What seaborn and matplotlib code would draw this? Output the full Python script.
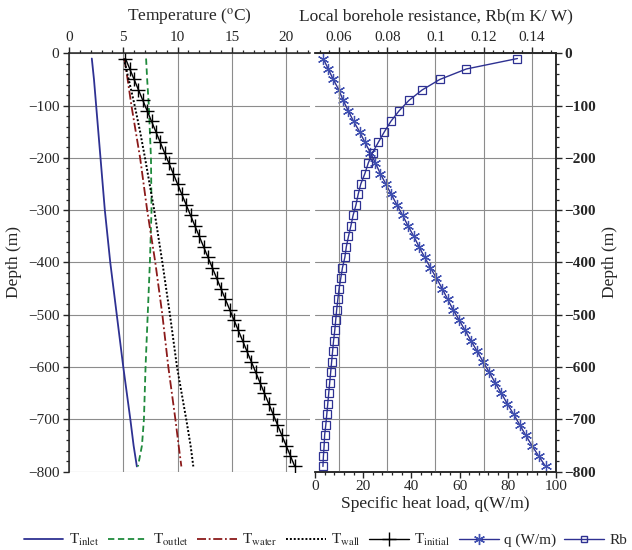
import matplotlib
matplotlib.use("Agg")
import matplotlib.pyplot as plt
from matplotlib.ticker import MultipleLocator
from matplotlib.lines import Line2D
import seaborn as sns

# ---------------- data ----------------
depth_T = [-10, -50, -100, -150, -200, -300, -400, -500, -600, -700, -750, -790]
t_inlet = [2.1, 2.3, 2.5, 2.7, 2.9, 3.3, 3.8, 4.4, 5.0, 5.65, 5.95, 6.25]
t_outlet = [7.1, 7.2, 7.35, 7.45, 7.55, 7.6, 7.45, 7.25, 7.05, 6.9, 6.72, 6.35]
t_water = [5.1, 5.4, 5.75, 6.15, 6.55, 7.2, 7.95, 8.6, 9.15, 9.8, 10.1, 10.35]
t_wall = [5.05, 5.5, 6.05, 6.55, 7.0, 7.85, 8.6, 9.3, 9.95, 10.8, 11.2, 11.45]

depth_pts = [-10, -30, -50, -70, -90, -110, -130, -150, -170, -190,
             -210, -230, -250, -270, -290, -310, -330, -350, -370, -390,
             -410, -430, -450, -470, -490, -510, -530, -550, -570, -590,
             -610, -630, -650, -670, -690, -710, -730, -750, -770, -790]
t_initial = [5.2, 5.6, 6.0, 6.4, 6.8, 7.2, 7.6, 8.0, 8.4, 8.8,
             9.2, 9.6, 10.0, 10.4, 10.8, 11.2, 11.6, 12.0, 12.4, 12.8,
             13.2, 13.6, 14.0, 14.4, 14.8, 15.2, 15.6, 16.0, 16.4, 16.8,
             17.2, 17.6, 18.0, 18.4, 18.8, 19.2, 19.6, 20.0, 20.4, 20.8]
q_load = [3.4, 5.5, 7.6, 9.9, 11.7, 13.8, 16.0, 18.5, 20.7, 23.0,
          25.1, 27.1, 29.4, 31.7, 34.0, 36.4, 38.6, 41.0, 43.2, 45.5,
          47.9, 50.4, 52.8, 55.0, 57.3, 59.8, 62.3, 64.8, 67.3, 69.8,
          72.3, 74.8, 77.3, 79.8, 82.4, 84.9, 87.4, 90.0, 92.8, 95.7]
rb = [0.134, 0.1128, 0.1018, 0.0945, 0.0890, 0.0849, 0.0815, 0.0788, 0.0763, 0.0739,
      0.0721, 0.0707, 0.0690, 0.0679, 0.0670, 0.0658, 0.0649, 0.0639, 0.0630, 0.0624,
      0.0614, 0.0607, 0.0600, 0.0595, 0.0590, 0.0586, 0.0582, 0.0577, 0.0573, 0.0569,
      0.0565, 0.0561, 0.0557, 0.0553, 0.0549, 0.0545, 0.0540, 0.0538, 0.0535, 0.0533]

# ---------------- style ----------------
sns.set_style("ticks")
plt.rcParams["font.family"] = ["Liberation Serif", "DejaVu Serif"]
plt.rcParams["mathtext.fontset"] = "stix"
plt.rcParams["axes.linewidth"] = 1.1

NAVY = "#2e3192"
STAR = "#3f4fb0"
GREEN = "#1f8a3c"
DRED = "#8b1a1a"
GRID = "#8c8c8c"

fig = plt.figure(figsize=(6.32, 5.5), dpi=100)
ax1 = fig.add_axes([0.1092, 0.1424, 0.3813, 0.7607])
ax2 = fig.add_axes([0.4984, 0.1424, 0.3813, 0.7607], sharey=ax1)
ax2t = ax2.twiny()

common = dict(sort=False, estimator=None, legend=False)

sns.lineplot(x=t_inlet, y=depth_T, ax=ax1, color=NAVY, lw=1.3, **common)
sns.lineplot(x=t_outlet, y=depth_T, ax=ax1, color=GREEN, lw=1.3,
             linestyle=(0, (3.5, 2)), **common)
sns.lineplot(x=t_water, y=depth_T, ax=ax1, color=DRED, lw=1.3,
             linestyle=(0, (5, 1.5, 1, 1.5)), **common)
sns.lineplot(x=t_wall, y=depth_T, ax=ax1, color="black", lw=1.4,
             linestyle=(0, (1, 1)), **common)
sns.lineplot(x=t_initial, y=depth_pts, ax=ax1, color="black", lw=1.0,
             marker="+", markersize=10, markeredgewidth=1.0,
             markeredgecolor="black", **common)

sns.lineplot(x=q_load, y=depth_pts, ax=ax2, color=NAVY, lw=1.0,
             marker=(6, 2, 0), markersize=8, markeredgewidth=0.9,
             markeredgecolor=STAR, **common)
sns.lineplot(x=rb, y=depth_pts, ax=ax2t, color=NAVY, lw=1.0,
             marker="s", markersize=5.5, markerfacecolor="none",
             markeredgecolor=NAVY, markeredgewidth=0.9, **common)

# ---------------- left panel axes ----------------
ax1.set_xlim(0, 22.2)
ax1.set_ylim(-800, 0)
ax1.xaxis.tick_top()
ax1.xaxis.set_label_position("top")
ax1.xaxis.set_major_locator(MultipleLocator(5))
ax1.xaxis.set_minor_locator(MultipleLocator(1))
ax1.yaxis.set_major_locator(MultipleLocator(100))
ax1.yaxis.set_minor_locator(MultipleLocator(20))
ax1.set_xlabel("Temperature ($^{\\mathrm{o}}$C)", fontsize=12.5, labelpad=7)
ax1.set_ylabel("Depth (m)", fontsize=12.5, labelpad=4)
ax1.tick_params(axis="both", which="major", labelsize=11, direction="out",
                length=4, width=1.0, pad=3)
ax1.tick_params(axis="both", which="minor", direction="out", length=2.5, width=0.9)
ax1.spines["right"].set_visible(False)
ax1.spines["bottom"].set_visible(False)
ax1.grid(True, which="major", color=GRID, lw=0.8)
ax1.set_axisbelow(True)

# ---------------- right panel axes ----------------
ax2.set_xlim(0, 100)
ax2.xaxis.set_major_locator(MultipleLocator(20))
ax2.xaxis.set_minor_locator(MultipleLocator(4))
ax2.yaxis.tick_right()
ax2.yaxis.set_label_position("right")
ax2.set_ylabel("Depth (m)", fontsize=12.5, labelpad=4)
ax2.set_xlabel("Specific heat load, q(W/m)", fontsize=12.5, labelpad=2)
ax2.tick_params(axis="both", which="major", labelsize=11, direction="out",
                length=4, width=1.0, pad=2)
ax2.tick_params(axis="both", which="minor", direction="out", length=2.5, width=0.9)
for lab in ax2.get_yticklabels():
    lab.set_fontweight("bold")
ax2.spines["left"].set_visible(False)
ax2.grid(True, axis="y", which="major", color=GRID, lw=0.8)
ax2.set_axisbelow(True)

ax2t.set_xlim(0.05, 0.15)
ax2t.xaxis.set_minor_locator(MultipleLocator(0.004))
ax2t.set_xticks([0.06, 0.08, 0.10, 0.12, 0.14])
ax2t.set_xticklabels(["0.06", "0.08", "0.1", "0.12", "0.14"])
ax2t.set_xlabel("Local borehole resistance, Rb(m K/ W)", fontsize=12.5, labelpad=7)
ax2t.tick_params(axis="x", which="major", labelsize=11, direction="out",
                 length=4, width=1.0, pad=3)
ax2t.tick_params(axis="x", which="minor", direction="out", length=2.5, width=0.9)
ax2t.spines["left"].set_visible(False)
ax2t.grid(True, axis="x", which="major", color=GRID, lw=0.8)
ax2t.set_axisbelow(True)
ax2t.set_ylim(-800, 0)

# ---------------- legend ----------------
handles = [
    Line2D([], [], color=NAVY, lw=1.3),
    Line2D([], [], color=GREEN, lw=1.3, linestyle=(0, (3.5, 2))),
    Line2D([], [], color=DRED, lw=1.3, linestyle=(0, (5, 1.5, 1, 1.5))),
    Line2D([], [], color="black", lw=1.4, linestyle=(0, (1, 1))),
    Line2D([], [], color="black", lw=1.0, marker="+", markersize=10,
           markeredgecolor="black"),
    Line2D([], [], color=NAVY, lw=1.0, marker=(6, 2, 0), markersize=8,
           markeredgecolor=STAR),
    Line2D([], [], color=NAVY, lw=1.0, marker="s", markersize=5,
           markerfacecolor="none"),
]
labels = ["T$_{\\mathrm{inlet}}$", "T$_{\\mathrm{outlet}}$", "T$_{\\mathrm{water}}$",
          "T$_{\\mathrm{wall}}$", "T$_{\\mathrm{initial}}$", "q (W/m)", "Rb"]
fig.legend(handles, labels, loc="center", bbox_to_anchor=(0.515, 0.018),
           ncol=7, frameon=False, fontsize=11, handlelength=2.6,
           handletextpad=0.35, columnspacing=0.55, borderaxespad=0,
           borderpad=0)

fig.savefig("out.png", dpi=100)
